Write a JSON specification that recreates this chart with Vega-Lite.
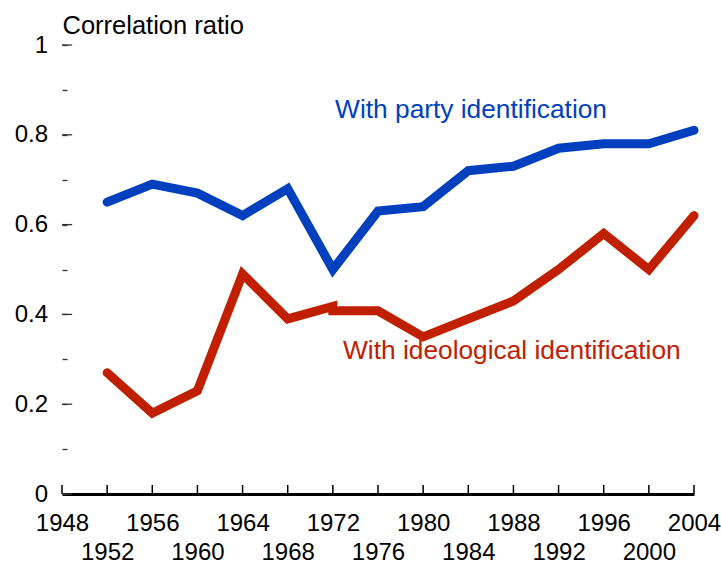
{
  "$schema": "https://vega.github.io/schema/vega-lite/v6.json",
  "width": 632,
  "height": 449,
  "autosize": "none",
  "padding": {"left": 62, "top": 45, "right": 27, "bottom": 70},
  "background": "white",
  "config": {"view": {"stroke": null}, "font": "Liberation Sans"},
  "datasets": {
    "lines": [
      {"series": "party", "year": 1952, "value": 0.65, "i": 1},
      {"series": "party", "year": 1956, "value": 0.69, "i": 2},
      {"series": "party", "year": 1960, "value": 0.67, "i": 3},
      {"series": "party", "year": 1964, "value": 0.62, "i": 4},
      {"series": "party", "year": 1968, "value": 0.68, "i": 5},
      {"series": "party", "year": 1972, "value": 0.50, "i": 6},
      {"series": "party", "year": 1976, "value": 0.63, "i": 7},
      {"series": "party", "year": 1980, "value": 0.64, "i": 8},
      {"series": "party", "year": 1984, "value": 0.72, "i": 9},
      {"series": "party", "year": 1988, "value": 0.73, "i": 10},
      {"series": "party", "year": 1992, "value": 0.77, "i": 11},
      {"series": "party", "year": 1996, "value": 0.78, "i": 12},
      {"series": "party", "year": 2000, "value": 0.78, "i": 13},
      {"series": "party", "year": 2004, "value": 0.81, "i": 14},
      {"series": "ideology", "year": 1952, "value": 0.27, "i": 1},
      {"series": "ideology", "year": 1956, "value": 0.18, "i": 2},
      {"series": "ideology", "year": 1960, "value": 0.23, "i": 3},
      {"series": "ideology", "year": 1964, "value": 0.49, "i": 4},
      {"series": "ideology", "year": 1968, "value": 0.39, "i": 5},
      {"series": "ideology", "year": 1972, "value": 0.418, "i": 6},
      {"series": "ideology", "year": 1972, "value": 0.408, "i": 7},
      {"series": "ideology", "year": 1976, "value": 0.408, "i": 8},
      {"series": "ideology", "year": 1980, "value": 0.35, "i": 9},
      {"series": "ideology", "year": 1984, "value": 0.39, "i": 10},
      {"series": "ideology", "year": 1988, "value": 0.43, "i": 11},
      {"series": "ideology", "year": 1992, "value": 0.50, "i": 12},
      {"series": "ideology", "year": 1996, "value": 0.58, "i": 13},
      {"series": "ideology", "year": 2000, "value": 0.50, "i": 14},
      {"series": "ideology", "year": 2004, "value": 0.62, "i": 15}
    ],
    "labels": [
      {"series": "party", "year": 1972.2, "value": 0.855, "text": "With party identification"},
      {"series": "ideology", "year": 1972.9, "value": 0.318, "text": "With ideological identification"}
    ],
    "xticks": [
      {"year": 1948}, {"year": 1952}, {"year": 1956}, {"year": 1960}, {"year": 1964},
      {"year": 1968}, {"year": 1972}, {"year": 1976}, {"year": 1980}, {"year": 1984},
      {"year": 1988}, {"year": 1992}, {"year": 1996}, {"year": 2000}, {"year": 2004}
    ],
    "yticks": [
      {"value": 0}, {"value": 0.2}, {"value": 0.4}, {"value": 0.6}, {"value": 0.8}, {"value": 1}
    ]
  },
  "layer": [
    {
      "data": {"name": "xticks"},
      "mark": {"type": "rule", "color": "black", "strokeWidth": 1.5},
      "encoding": {
        "x": {"field": "year", "type": "quantitative"},
        "y": {"datum": 0},
        "y2": {"datum": 0.02}
      }
    },
    {
      "data": {"name": "yticks"},
      "mark": {"type": "rule", "color": "#333", "strokeWidth": 1.3},
      "encoding": {
        "y": {"field": "value", "type": "quantitative"},
        "x": {"datum": 1948},
        "x2": {"datum": 1948.9}
      }
    },
    {
      "data": {"name": "lines"},
      "mark": {"type": "line", "strokeWidth": 9, "strokeCap": "round", "strokeJoin": "miter"},
      "encoding": {
        "x": {
          "field": "year", "type": "quantitative",
          "scale": {"domain": [1948, 2004], "nice": false, "zero": false},
          "axis": {
            "title": null,
            "values": [1948, 1952, 1956, 1960, 1964, 1968, 1972, 1976, 1980, 1984, 1988, 1992, 1996, 2000, 2004],
            "format": "d",
            "labelExpr": "(datum.value/4)%2==0 ? ['', datum.label] : datum.label",
            "labelOverlap": false,
            "labelFlush": false,
            "labelFontSize": 24,
            "labelColor": "black",
            "labelBaseline": "top",
            "labelLineHeight": 29,
            "labelPadding": 17,
            "ticks": false,
            "domainColor": "black",
            "domainWidth": 3,
            "grid": false
          }
        },
        "y": {
          "field": "value", "type": "quantitative",
          "scale": {"domain": [0, 1], "nice": false},
          "axis": {
            "title": "Correlation ratio",
            "titleAngle": 0,
            "titleAlign": "left",
            "titleBaseline": "alphabetic",
            "titleX": 0,
            "titleY": -12,
            "titleFontSize": 25.5,
            "titleFontWeight": "normal",
            "titleColor": "black",
            "values": [0, 0.05, 0.1, 0.15, 0.2, 0.25, 0.3, 0.35, 0.4, 0.45, 0.5, 0.55, 0.6, 0.65, 0.7, 0.75, 0.8, 0.85, 0.9, 0.95, 1],
            "labelExpr": "abs(datum.value*5 - round(datum.value*5)) < 0.001 ? datum.label : ''",
            "format": "~g",
            "labelOverlap": false,
            "labelFlush": false,
            "labelFontSize": 24,
            "labelColor": "black",
            "labelPadding": 19.5,
            "domain": false,
            "ticks": true,
            "tickSize": -5,
            "tickColor": "#333",
            "tickWidth": 1.3,
            "grid": false
          }
        },
        "color": {
          "field": "series", "type": "nominal",
          "scale": {"domain": ["party", "ideology"], "range": ["#0040BF", "#C02000"]},
          "legend": null
        },
        "order": {"field": "i", "type": "quantitative"}
      }
    },
    {
      "data": {"name": "labels"},
      "mark": {"type": "text", "align": "left", "baseline": "middle", "fontSize": 26.3},
      "encoding": {
        "x": {"field": "year", "type": "quantitative"},
        "y": {"field": "value", "type": "quantitative"},
        "text": {"field": "text"},
        "color": {"field": "series", "type": "nominal", "legend": null}
      }
    }
  ]
}
